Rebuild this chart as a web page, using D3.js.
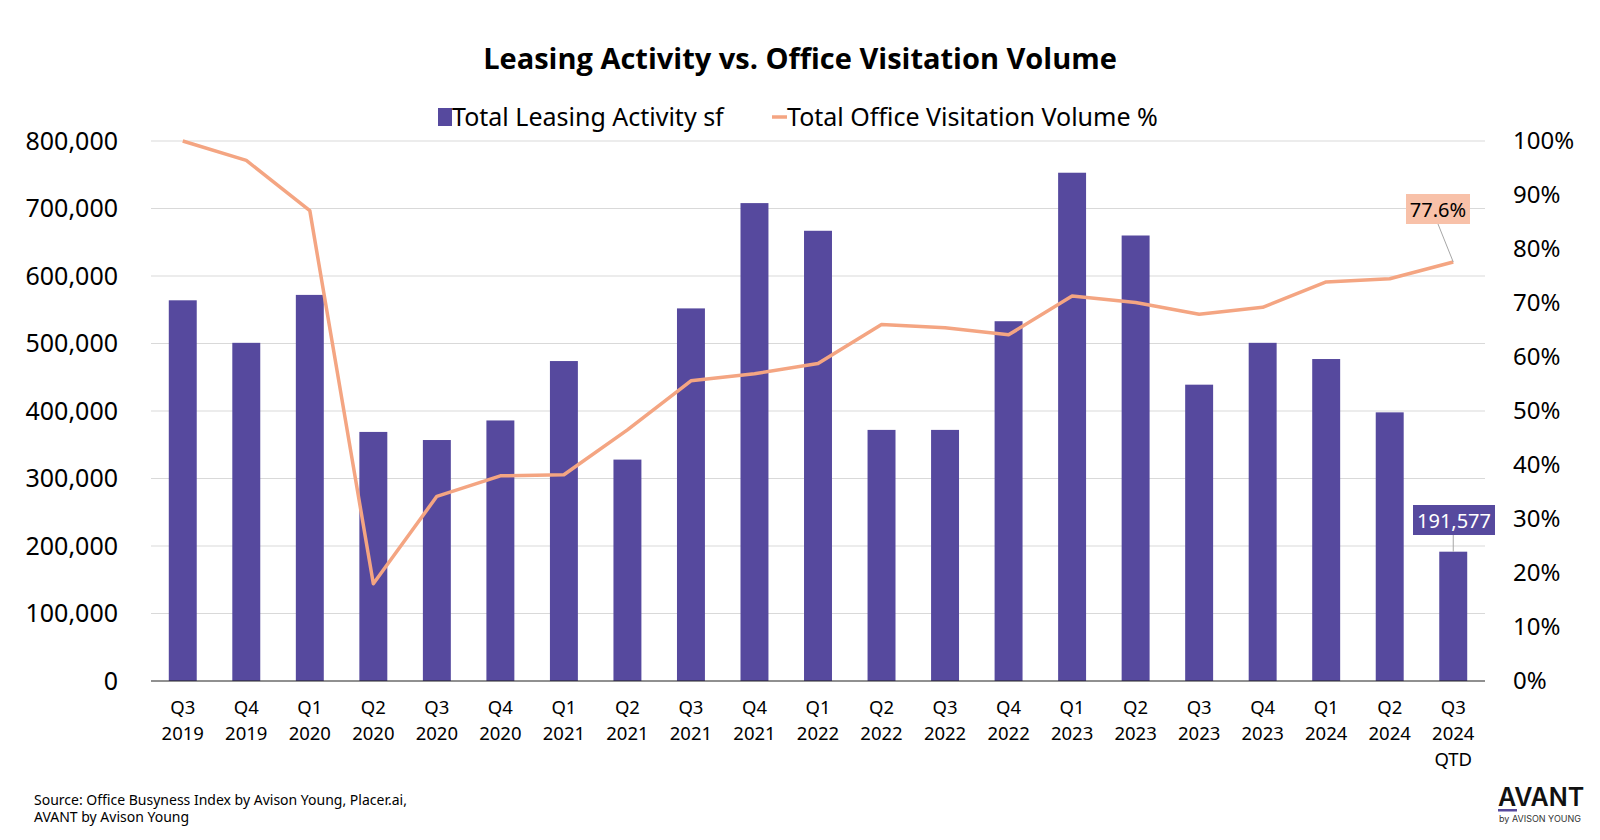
<!DOCTYPE html>
<html><head><meta charset="utf-8">
<script src="https://cdn.jsdelivr.net/npm/d3@7"></script>
<style>
body{margin:0;background:#fff;}
text{font-family:"Noto Sans",sans-serif;}
</style></head>
<body><svg id="c" width="1600" height="840"></svg>
<script>
const categories = ["Q3 2019","Q4 2019","Q1 2020","Q2 2020","Q3 2020","Q4 2020","Q1 2021","Q2 2021","Q3 2021","Q4 2021","Q1 2022","Q2 2022","Q3 2022","Q4 2022","Q1 2023","Q2 2023","Q3 2023","Q4 2023","Q1 2024","Q2 2024","Q3 2024 QTD"];
const leasingSf = [564000,501000,572000,369000,357000,386000,474000,328000,552000,708000,667000,372000,372000,533000,753000,660000,439000,501000,477000,398000,191577];
const visitationPct = [100.0,96.4,87.1,18.0,34.2,38.0,38.2,46.5,55.6,56.9,58.8,66.0,65.4,64.1,71.3,70.1,67.9,69.2,73.9,74.5,77.6];
const leftTicks = [0,100000,200000,300000,400000,500000,600000,700000,800000];
const rightTicks = [0,10,20,30,40,50,60,70,80,90,100];

const svg = d3.select("#c");
const m = {l:151, r:1485, t:141, b:681};
const barColor = "#56499e", lineColor = "#f4a582";

const x = d3.scaleBand().domain(categories).range([m.l, m.r]).paddingInner(0.56).paddingOuter(0.28);
const yL = d3.scaleLinear().domain([0,800000]).range([m.b, m.t]);
const yR = d3.scaleLinear().domain([0,100]).range([m.b, m.t]);

// title
svg.append("text").attr("x",800).attr("y",69).attr("text-anchor","middle")
  .attr("font-size",29).attr("font-weight",700).style("font-family","'Open Sans',sans-serif")
  .attr("fill","#000").text("Leasing Activity vs. Office Visitation Volume");

// gridlines
svg.append("g").selectAll("line").data(leftTicks.filter(d=>d>0)).join("line")
  .attr("x1",m.l).attr("x2",m.r).attr("y1",d=>yL(d)).attr("y2",d=>yL(d))
  .attr("stroke","#d9d9d9").attr("stroke-width",1);

// left axis
const axL = svg.append("g").attr("transform",`translate(${m.l},0)`)
  .call(d3.axisLeft(yL).tickValues(leftTicks).tickFormat(d3.format(",")).tickSize(0).tickPadding(33));
axL.select(".domain").remove();
axL.selectAll("text").attr("font-size",25).attr("fill","#000").style("font-family","'Noto Sans',sans-serif");

// right axis
const axR = svg.append("g").attr("transform",`translate(${m.r},0)`)
  .call(d3.axisRight(yR).tickValues(rightTicks).tickFormat(d=>d+"%").tickSize(0).tickPadding(28));
axR.select(".domain").remove();
axR.selectAll("text").attr("font-size",24).attr("fill","#000").style("font-family","'Noto Sans',sans-serif");

// bars
svg.append("g").selectAll("rect").data(leasingSf).join("rect")
  .attr("x",(d,i)=>x(categories[i])).attr("width",x.bandwidth())
  .attr("y",d=>yL(d)).attr("height",d=>m.b-yL(d)).attr("fill",barColor);

// baseline
svg.append("line").attr("x1",m.l).attr("x2",m.r).attr("y1",m.b).attr("y2",m.b).attr("stroke","#222").attr("stroke-width",1.2);

// x labels
const xl = svg.append("g");
categories.forEach((c,i)=>{
  const parts = c.split(" ");
  const cx = x(c)+x.bandwidth()/2;
  const t = xl.append("text").attr("x",cx).attr("y",714).attr("text-anchor","middle")
    .attr("font-size",18.5).attr("fill","#000");
  parts.forEach((p,j)=>t.append("tspan").attr("x",cx).attr("dy",j===0?0:26).text(p));
});

// line
const line = d3.line().x((d,i)=>x(categories[i])+x.bandwidth()/2).y(d=>yR(d));
svg.append("path").datum(visitationPct).attr("d",line).attr("fill","none")
  .attr("stroke",lineColor).attr("stroke-width",3.5).attr("stroke-linejoin","round");

// annotations
const last = categories.length-1;
const lx = x(categories[last])+x.bandwidth()/2;
svg.append("line").attr("x1",1438).attr("y1",224).attr("x2",lx).attr("y2",yR(visitationPct[last]))
  .attr("stroke","#a6a6a6").attr("stroke-width",1);
svg.append("rect").attr("x",1406).attr("y",194).attr("width",64).attr("height",30).attr("fill","#f8c1a9");
svg.append("text").attr("x",1438).attr("y",217).attr("text-anchor","middle").attr("font-size",20)
  .attr("fill","#000").text(visitationPct[last].toFixed(1)+"%");
svg.append("line").attr("x1",lx).attr("y1",535).attr("x2",lx).attr("y2",yL(leasingSf[last]))
  .attr("stroke","#a6a6a6").attr("stroke-width",1);
svg.append("rect").attr("x",1413).attr("y",505).attr("width",82).attr("height",30).attr("fill",barColor);
svg.append("text").attr("x",1454).attr("y",528).attr("text-anchor","middle").attr("font-size",20)
  .attr("fill","#fff").text(d3.format(",")(leasingSf[last]));

// legend
const lg = svg.append("g");
lg.append("rect").attr("x",438).attr("y",108).attr("width",14).attr("height",18).attr("fill",barColor);
lg.append("text").attr("x",452).attr("y",126).attr("font-size",25).attr("fill","#000").text("Total Leasing Activity sf");
lg.append("line").attr("x1",772).attr("x2",787).attr("y1",117).attr("y2",117).attr("stroke",lineColor).attr("stroke-width",3.5);
lg.append("text").attr("x",787).attr("y",126).attr("font-size",25).attr("fill","#000").text("Total Office Visitation Volume %");

// source
svg.append("text").attr("x",34).attr("y",805).attr("font-size",14).attr("fill","#000").text("Source: Office Busyness Index by Avison Young, Placer.ai,");
svg.append("text").attr("x",34).attr("y",822).attr("font-size",14).attr("fill","#000").text("AVANT by Avison Young");

// logo
svg.append("text").attr("x",1498).attr("y",806).attr("font-size",25).attr("font-weight",600)
  .style("font-family","Inter,sans-serif").attr("fill","#111").text("AVANT");
svg.append("rect").attr("x",1498).attr("y",809).attr("width",19).attr("height",2.5).attr("fill",barColor);
svg.append("text").attr("x",1499).attr("y",822).attr("font-size",9)
  .style("font-family","Inter,sans-serif").attr("fill","#333").text("by AVISON YOUNG");
</script></body></html>
